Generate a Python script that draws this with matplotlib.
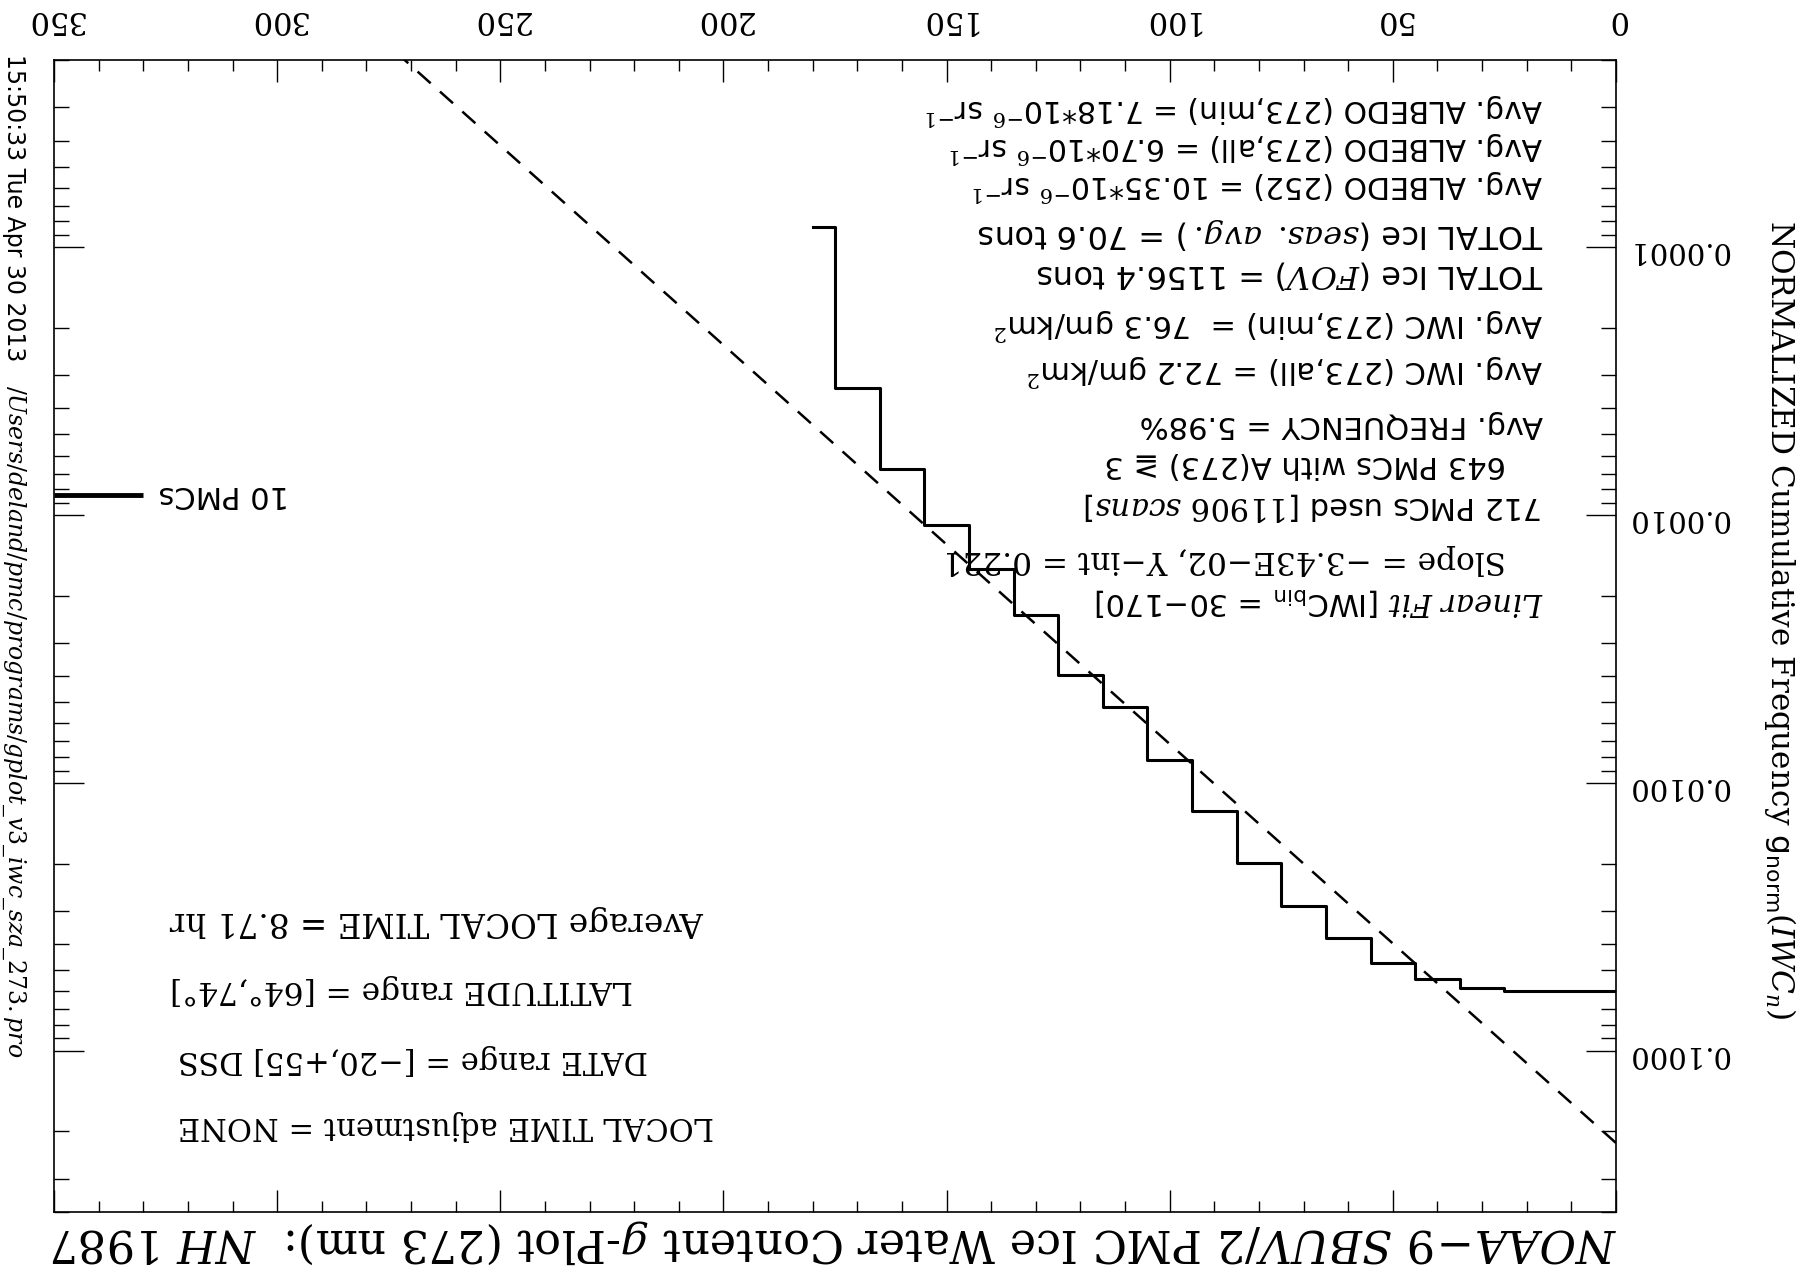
import numpy as np
import matplotlib
matplotlib.use("Agg")
import matplotlib.pyplot as plt
from matplotlib.ticker import MultipleLocator, LogLocator, NullFormatter, FormatStrFormatter

# g-plot data: cumulative PMC counts with IWC >= bin, NH 1987
iwc_bins = [0, 10, 20, 30, 40, 50, 60, 70, 80, 90, 100, 110, 120, 130, 140, 150, 160, 170, 180]
pmc_counts = [712, 712, 711, 696, 645, 561, 452, 343, 238, 152, 98, 62, 47, 28, 19, 13, 8, 4, 1]
n_scans = 11906
n_marker = 10          # "10 PMCs" reference level

# linear fit of ln(g) over IWC 30-170
fit_slope = -3.43e-2
fit_yint = 0.221

W, H = 1803, 1273
fig = plt.figure(figsize=(W / 100, H / 100), dpi=100)

# plot box in pixels: x 54..1616, y 60..1212
ax = fig.add_axes([54 / W, 1 - 1212 / H, (1616 - 54) / W, (1212 - 60) / H])

g_norm = np.array(pmc_counts) / n_scans
ax.step(iwc_bins, g_norm, where="mid", color="k", lw=2.2)

x_fit = np.linspace(0, 350, 400)
ax.plot(x_fit, fit_yint * np.exp(fit_slope * x_fit), color="k", lw=1.8,
        ls=(0, (7, 5)))

ax.plot([350, 330], [n_marker / n_scans] * 2, color="k", lw=3.5, solid_capstyle="butt",
        clip_on=False)
ax.text(312, n_marker / n_scans, "10 PMCs", rotation=180, rotation_mode="anchor",
        ha="center", va="center", fontsize=22, family="DejaVu Sans")

ax.set_yscale("log")
ax.set_xlim(350, 0)
ax.set_ylim(0.4, 2e-5)

for sp in ax.spines.values():
    sp.set_linewidth(1.2)

ax.xaxis.set_major_locator(MultipleLocator(50))
ax.xaxis.set_minor_locator(MultipleLocator(10))
ax.xaxis.set_major_formatter(FormatStrFormatter("%d"))
ax.yaxis.set_major_locator(LogLocator(base=10, numticks=10))
ax.yaxis.set_minor_locator(LogLocator(base=10, subs=np.arange(2, 10), numticks=20))
ax.yaxis.set_major_formatter(FormatStrFormatter("%.4f"))
ax.yaxis.set_minor_formatter(NullFormatter())

ax.tick_params(axis="x", which="both", direction="in", top=True, bottom=True,
               labeltop=True, labelbottom=False, labelrotation=180, width=1.0)
ax.tick_params(axis="x", which="major", length=15.8, pad=18)
ax.tick_params(axis="x", which="minor", length=7.7)
ax.tick_params(axis="y", which="both", direction="in", left=True, right=True,
               labelleft=False, labelright=True, labelrotation=180, width=1.0)
ax.tick_params(axis="y", which="major", length=21.6, pad=8)
ax.tick_params(axis="y", which="minor", length=11)
for lab in ax.get_xticklabels():
    lab.set_family("DejaVu Serif")
    lab.set_fontsize(22)
for lab in ax.get_yticklabels():
    lab.set_family("DejaVu Serif")
    lab.set_fontsize(21)


def px(x, y):
    return x / W, 1 - y / H


# statistics block, drawn upside down like the rest of the page
stats = [
    (1543, 109, r"Avg. ALBEDO (273,min) = 7.18*10$^{-6}$ sr$^{-1}$", "DejaVu Sans", 21.5),
    (1543, 147, r"Avg. ALBEDO (273,all) = 6.70*10$^{-6}$ sr$^{-1}$", "DejaVu Sans", 21.5),
    (1543, 185, r"Avg. ALBEDO (252) = 10.35*10$^{-6}$ sr$^{-1}$", "DejaVu Sans", 21.5),
    (1543, 234, r"TOTAL Ice ($\mathit{seas.\ avg.}$) = 70.6 tons", "DejaVu Sans", 23),
    (1543, 275, r"TOTAL Ice ($\mathit{FOV}$) = 1156.4 tons", "DejaVu Sans", 23),
    (1543, 325, r"Avg. IWC (273,min) =  76.3 gm/km$^2$", "DejaVu Sans", 22),
    (1543, 371, r"Avg. IWC (273,all) = 72.2 gm/km$^2$", "DejaVu Sans", 22),
    (1543, 425, "Avg. FREQUENCY = 5.98%", "DejaVu Sans", 22),
    (1506, 464, "643 PMCs with A(273) \u2267 3", "DejaVu Sans", 22),
    (1543, 507, r"712 PMCs used [$\mathit{11906\ scans}$]", "DejaVu Sans", 22),
    (1506, 560, "Slope = \u22123.43E\u221202, Y\u2212int = 0.221", "DejaVu Serif", 22.5),
    (1543, 601, r"$\mathit{Linear\ Fit}$ [IWC$_{\mathsf{bin}}$ = 30" + "\u2212170]", "DejaVu Sans", 22),
]
for x, y, s, fam, fs in stats:
    fig.text(*px(x, y), s, rotation=180, rotation_mode="anchor", ha="left", va="center",
             fontsize=fs, family=fam, math_fontfamily="dejavuserif")

sel = [
    (170, 921, "Average LOCAL TIME = 8.71 hr", 23.5),
    (170, 990, "LATITUDE range = [64\u00b0,74\u00b0]", 22.5),
    (178, 1060, "DATE range = [\u221220,+55] DSS", 22),
    (178, 1125, "LOCAL TIME adjustment = NONE", 22),
]
for x, y, s, fs in sel:
    fig.text(*px(x, y), s, rotation=180, rotation_mode="anchor", ha="right", va="center",
             fontsize=fs, family="DejaVu Serif")

# title (under the box because the page is flipped)
fig.text(*px(1616, 1242),
         r"$\mathit{NOAA\!-\!9\ SBUV/2}$ PMC Ice Water Content $\mathit{g}$-Plot (273 nm):  $\mathit{NH\ 1987}$",
         rotation=180, rotation_mode="anchor", ha="left", va="center",
         fontsize=32, family="DejaVu Serif", math_fontfamily="dejavuserif")

fig.text(*px(1780, 620),
         r"NORMALIZED Cumulative Frequency $\mathsf{g}_{\mathsf{norm}}$($\mathit{IWC_n}$)",
         rotation=270, rotation_mode="anchor", ha="center", va="center",
         fontsize=22.5, family="DejaVu Serif", math_fontfamily="dejavuserif")

# time stamp and source file along the left edge
fig.text(*px(14, 54), "15:50:33 Tue Apr 30 2013", rotation=270, rotation_mode="anchor",
         ha="left", va="center", fontsize=17, family="DejaVu Sans")
fig.text(*px(14, 385), r"$\mathit{/Users/deland/pmc/programs/gplot\_v3\_iwc\_sza\_273.pro}$",
         rotation=270, rotation_mode="anchor", ha="left", va="center",
         fontsize=17, family="DejaVu Serif", math_fontfamily="dejavuserif")

fig.savefig("out.png", dpi=100)
